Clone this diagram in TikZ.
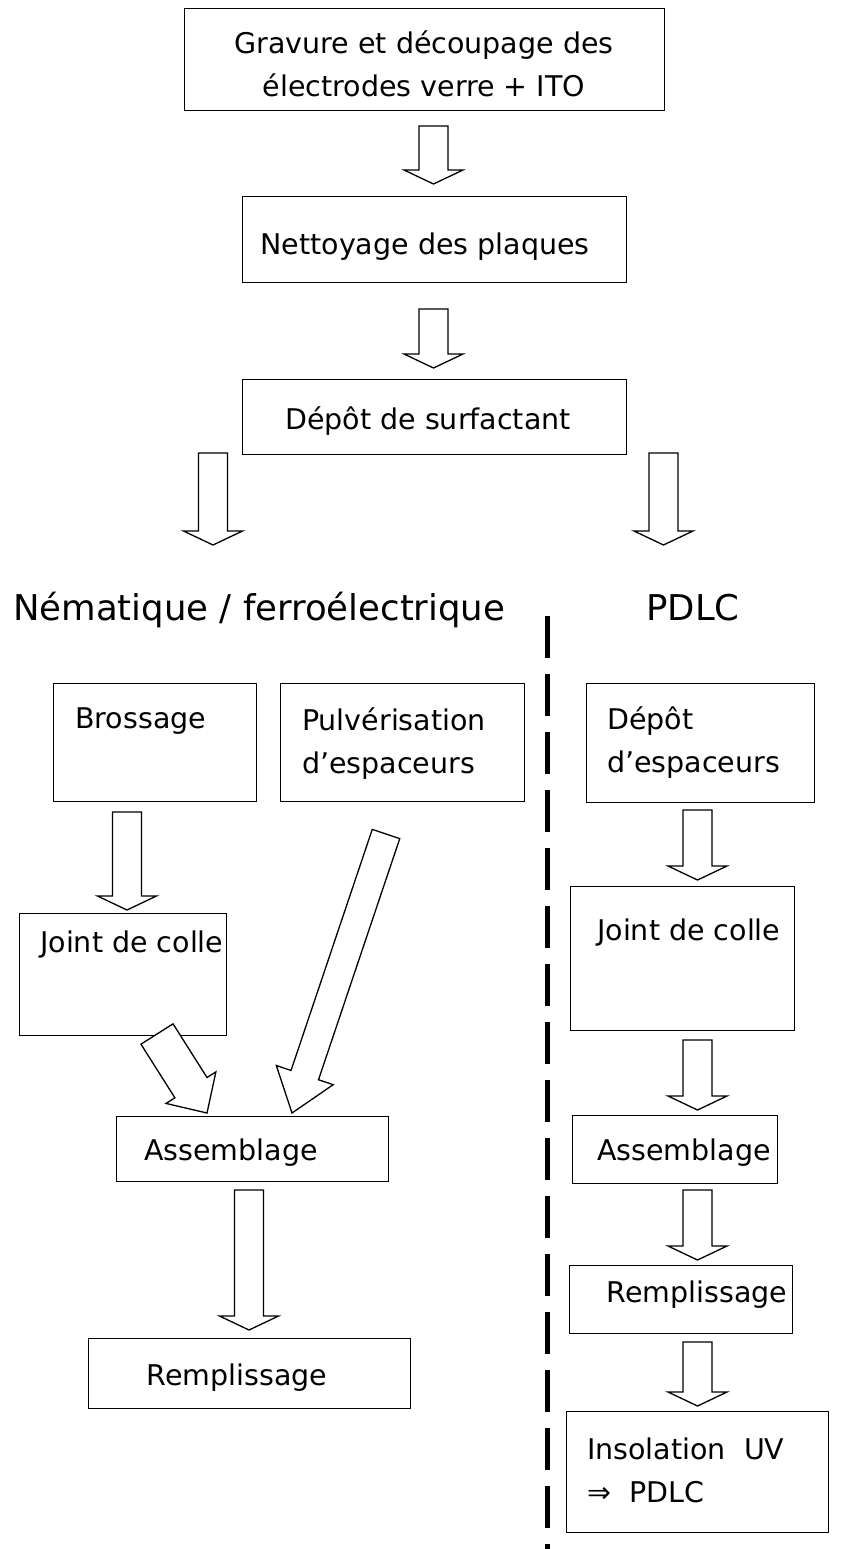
\documentclass[tikz,border=0pt]{standalone}
\usepackage{fontspec}
\setmainfont{DejaVu Sans}
\usetikzlibrary{calc}
\newcommand{\blockarrow}[5]{% start, tip, shaft half width, head half width, head length
  \draw[barrow]
    ($(#1)!#3!90:(#2)$) --
    ($($(#2)!#5!(#1)$)!#3!-90:(#1)$) --
    ($($(#2)!#5!(#1)$)!#4!-90:(#1)$) --
    (#2) --
    ($($(#2)!#5!(#1)$)!#4!90:(#1)$) --
    ($($(#2)!#5!(#1)$)!#3!90:(#1)$) --
    ($(#1)!#3!-90:(#2)$) -- cycle;}
\begin{document}
\begin{tikzpicture}[x=1pt,y=-1pt,
  boxnode/.style={draw, line width=1.3pt, inner sep=0pt, anchor=north west},
  txt/.style={font=\fontsize{28.5}{43}\selectfont, inner sep=0pt},
  titletxt/.style={font=\fontsize{35.5}{43}\selectfont, inner sep=0pt},
  barrow/.style={draw, line width=1.3pt, fill=white, line join=miter}]
\useasboundingbox (0,0) rectangle (850,1549);
% boxes
\node[boxnode, minimum width=480pt, minimum height=102pt] (gravure) at (184,8) {};
\node[txt, align=center, anchor=base] (tgravure) at (424,97) {Gravure et découpage des\\électrodes verre + ITO};
\node[boxnode, minimum width=384pt, minimum height=86pt] (nettoyage) at (242,196) {};
\node[txt, anchor=base] (tnettoyage) at (425,254) {Nettoyage des plaques};
\node[boxnode, minimum width=384pt, minimum height=75pt] (surfactant) at (242,379) {};
\node[txt, anchor=base] (tsurfactant) at (428,429) {Dépôt de surfactant};
% titles
\node[titletxt, anchor=base west] (tnem) at (13,620) {Nématique / ferroélectrique};
\node[titletxt, anchor=base] (tpdlc) at (693,620) {PDLC};
% left column
\node[boxnode, minimum width=203pt, minimum height=118pt] (brossage) at (53,683) {};
\node[txt, anchor=base west] (tbrossage) at (75,728) {Brossage};
\node[boxnode, minimum width=244pt, minimum height=118pt] (pulve) at (280,683) {};
\node[txt, anchor=base west, align=left] (tpulve) at (302,773) {Pulvérisation\\d’espaceurs};
\node[boxnode, minimum width=207pt, minimum height=122pt] (jointg) at (19,913) {};
\node[txt, anchor=base west] (tjointg) at (40,952) {Joint de colle};
\node[boxnode, minimum width=272pt, minimum height=65pt] (assemg) at (116,1116) {};
\node[txt, anchor=base] (tassemg) at (231,1160) {Assemblage};
\node[boxnode, minimum width=322pt, minimum height=70pt] (rempg) at (88,1338) {};
\node[txt, anchor=base] (trempg) at (237,1385) {Remplissage};
% right column
\node[boxnode, minimum width=228pt, minimum height=119pt] (depotd) at (586,683) {};
\node[txt, anchor=base west, align=left] (tdepotd) at (607,772) {Dépôt\\d’espaceurs};
\node[boxnode, minimum width=224pt, minimum height=144pt] (jointd) at (570,886) {};
\node[txt, anchor=base west] (tjointd) at (597,940) {Joint de colle};
\node[boxnode, minimum width=205pt, minimum height=68pt] (assemd) at (572,1115) {};
\node[txt, anchor=base] (tassemd) at (684,1160) {Assemblage};
\node[boxnode, minimum width=223pt, minimum height=68pt] (rempd) at (569,1265) {};
\node[txt, anchor=base] (trempd) at (697,1302) {Remplissage};
\node[boxnode, minimum width=262pt, minimum height=121pt] (insol) at (566,1411) {};
\node[txt, anchor=base west, align=left] (tinsol) at (587,1502) {Insolation\ \ UV\\⇒\ \ PDLC};
% dashed separator
\coordinate (sepTop) at (547,616);
\coordinate (sepBot) at (547,1549);
\draw[line width=5pt, dash pattern=on 42pt off 16pt] (sepTop) -- (sepBot);
% arrow coordinates
\coordinate (a1s) at (433.5,126); \coordinate (a1t) at (433.5,184);
\coordinate (a2s) at (433.5,309); \coordinate (a2t) at (433.5,368);
\coordinate (a3s) at (213,453); \coordinate (a3t) at (213,545);
\coordinate (a4s) at (663.5,453); \coordinate (a4t) at (663.5,545);
\coordinate (a5s) at (127,812); \coordinate (a5t) at (127,910);
\coordinate (a6s) at (157,1034); \coordinate (a6t) at (207,1113);
\coordinate (a7s) at (386,834); \coordinate (a7t) at (292,1113);
\coordinate (a8s) at (249,1190); \coordinate (a8t) at (249,1330);
\coordinate (a9s) at (697.5,810); \coordinate (a9t) at (697.5,880);
\coordinate (a10s) at (697.5,1040); \coordinate (a10t) at (697.5,1110);
\coordinate (a11s) at (697.5,1190); \coordinate (a11t) at (697.5,1260);
\coordinate (a12s) at (697.5,1342); \coordinate (a12t) at (697.5,1406);
\blockarrow{a1s}{a1t}{14.5pt}{29.5pt}{14pt}
\blockarrow{a2s}{a2t}{14.5pt}{29.5pt}{14pt}
\blockarrow{a3s}{a3t}{14.5pt}{29.5pt}{14pt}
\blockarrow{a4s}{a4t}{14.5pt}{29.5pt}{14pt}
\blockarrow{a5s}{a5t}{14.5pt}{29.5pt}{14pt}
\blockarrow{a6s}{a6t}{19pt}{29.5pt}{30pt}
\blockarrow{a7s}{a7t}{14.5pt}{30pt}{40pt}
\blockarrow{a8s}{a8t}{14.5pt}{29.5pt}{14pt}
\blockarrow{a9s}{a9t}{14.5pt}{29.5pt}{14pt}
\blockarrow{a10s}{a10t}{14.5pt}{29.5pt}{14pt}
\blockarrow{a11s}{a11t}{14.5pt}{29.5pt}{14pt}
\blockarrow{a12s}{a12t}{14.5pt}{29.5pt}{14pt}
\end{tikzpicture}
\end{document}
